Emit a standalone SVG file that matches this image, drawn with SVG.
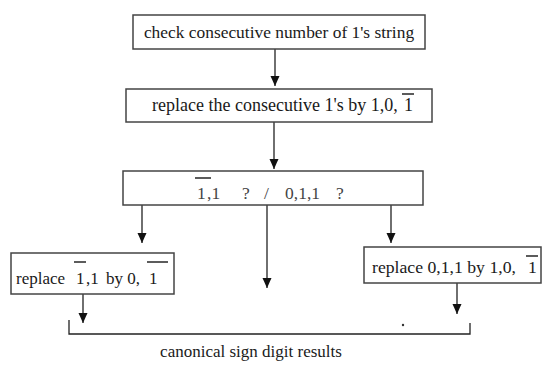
<svg xmlns="http://www.w3.org/2000/svg" width="543" height="365" viewBox="0 0 543 365">
<style>
.box{fill:#fff;stroke:#444;stroke-width:1.5}
.t{font-family:"Liberation Serif","Times New Roman",serif;font-size:17px;fill:#1a1a1a}
.g{fill:#444}
.ln{stroke:#222;stroke-width:1.3;fill:none}
.ob{stroke:#333;stroke-width:1.6}
</style>
<defs>
<marker id="a" markerWidth="10" markerHeight="10" refX="10" refY="5" orient="auto" markerUnits="userSpaceOnUse" viewBox="0 0 10 10">
<path d="M0,0.5 L10,5 L0,9.5 Z" fill="#111"/>
</marker>
</defs>
<g id="connectors">
<line class="ln" x1="275" y1="49" x2="275" y2="86" marker-end="url(#a)"/>
<line class="ln" x1="274" y1="122" x2="274" y2="169" marker-end="url(#a)"/>
<line class="ln" x1="142" y1="205" x2="142" y2="243" marker-end="url(#a)"/>
<line class="ln" x1="267" y1="205" x2="267" y2="288" marker-end="url(#a)"/>
<line class="ln" x1="391" y1="205" x2="391" y2="243" marker-end="url(#a)"/>
<line class="ln" x1="83" y1="294" x2="83" y2="323" marker-end="url(#a)"/>
<line class="ln" x1="457" y1="283" x2="457" y2="314" marker-end="url(#a)"/>
<polyline class="ln" points="69,320 69,334 470,334 470,323"/>
<circle cx="403" cy="325" r="1.2" fill="#333"/>
</g>
<g id="n1">
<rect class="box" x="133" y="15" width="292" height="34"/>
<text class="t" x="279" y="38" text-anchor="middle" style="font-size:17.4px">check consecutive number of 1's string</text>
</g>
<g id="n2">
<rect class="box" x="126" y="89" width="306" height="33"/>
<text class="t" x="152" y="111" style="font-size:18px">replace the consecutive 1's by 1,0, <tspan x="404">1</tspan></text>
<line class="ob" x1="402" y1="94" x2="414" y2="94"/>
</g>
<g id="n3">
<rect class="box" x="123" y="171" width="300" height="34"/>
<text class="t g" y="199" style="font-size:17.5px"><tspan x="197">1</tspan><tspan x="207">,1</tspan><tspan x="242">?</tspan><tspan x="264">/</tspan><tspan x="285">0,1,1</tspan><tspan x="336">?</tspan></text>
<line class="ob" x1="195" y1="178" x2="211" y2="178"/>
</g>
<g id="n4">
<rect class="box" x="11" y="253" width="163" height="41"/>
<text class="t" y="284"><tspan x="16">replace</tspan><tspan x="76">1</tspan><tspan x="86">,1</tspan><tspan x="106">by 0,</tspan><tspan x="149">1</tspan></text>
<line class="ob" x1="74" y1="262" x2="86" y2="262"/>
<line class="ob" x1="147" y1="262" x2="168" y2="262"/>
</g>
<g id="n5">
<rect class="box" x="364" y="247" width="177" height="36"/>
<text class="t" x="372" y="273" style="font-size:17.7px">replace 0,1,1 by 1,0, <tspan x="528">1</tspan></text>
<line class="ob" x1="526" y1="256" x2="538" y2="256"/>
</g>
<g id="caption">
<text class="t" x="251" y="357" text-anchor="middle">canonical sign digit results</text>
</g>
</svg>
